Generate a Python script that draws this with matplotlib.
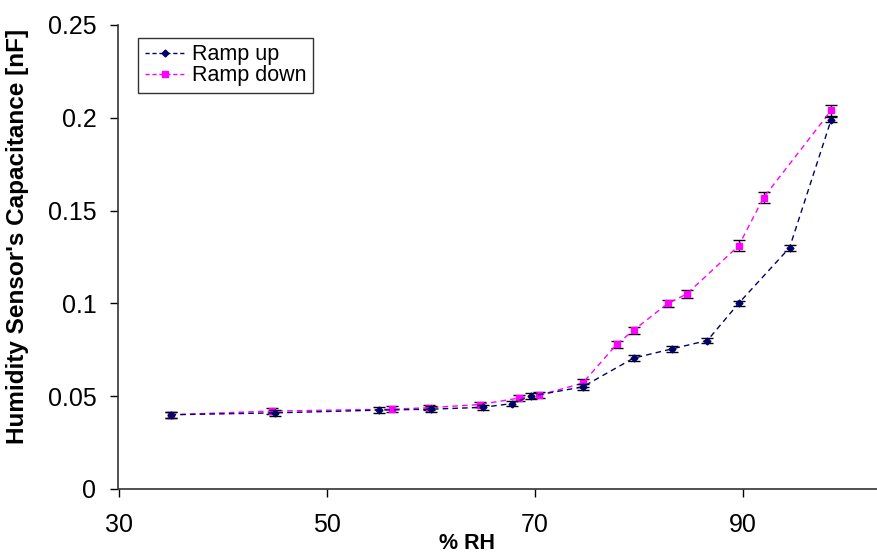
import matplotlib
matplotlib.use("Agg")
import matplotlib.pyplot as plt
from matplotlib.lines import Line2D

# Data
up_x = [35, 45, 55, 60, 65, 67.8, 69.6, 74.6, 79.5, 83.2, 86.6, 89.6, 94.5, 98.5]
up_y = [0.040, 0.041, 0.0425, 0.043, 0.044, 0.046, 0.050, 0.055, 0.0705, 0.0755, 0.080, 0.100, 0.130, 0.199]
up_err = [0.0015] * len(up_x)

down_x = [35, 44.8, 56.3, 59.8, 64.7, 68.5, 70.4, 74.6, 77.9, 79.5, 82.8, 84.6, 89.6, 92.0, 98.5]
down_y = [0.040, 0.042, 0.043, 0.0438, 0.0455, 0.049, 0.0505, 0.057, 0.078, 0.0855, 0.100, 0.105, 0.131, 0.157, 0.204]
down_err = [0.0015, 0.0015, 0.0015, 0.0015, 0.0015, 0.0015, 0.0015, 0.002, 0.002, 0.002, 0.002, 0.002, 0.003, 0.003, 0.003]

x_ticks = [30, 50, 70, 90]
y_ticks = [0, 0.05, 0.1, 0.15, 0.2, 0.25]
y_ticklabels = ["0", "0.05", "0.1", "0.15", "0.2", "0.25"]

plt.rcParams['font.family'] = ['Liberation Sans', 'DejaVu Sans']

fig = plt.figure(figsize=(8.78, 5.55), dpi=100)
ax = fig.add_axes([118.5 / 878, 1 - 489 / 555, 1 - 118.5 / 878, (489 - 25) / 555])

navy = '#000066'
mag = '#ff00ff'

ax.errorbar(up_x, up_y, yerr=up_err, color=navy, ls='--', lw=1.0, marker='D', ms=3.5,
            ecolor='black', elinewidth=1, capsize=4, dashes=(4, 3), zorder=3)
ax.errorbar(down_x, down_y, yerr=down_err, color=mag, ls='--', lw=1.0, marker='s', ms=5,
            ecolor='black', elinewidth=1, capsize=4, dashes=(4, 3), zorder=2)

ax.set_xlim(30, 103)
ax.set_ylim(0, 0.25)
ax.set_xticks(x_ticks)
ax.set_yticks(y_ticks)
ax.set_yticklabels(y_ticklabels)
ax.tick_params(axis='both', labelsize=18, direction='out', length=6, width=1, colors='black')
ax.tick_params(axis='x', pad=11)
ax.tick_params(axis='y', pad=10)
for s in ['top', 'right']:
    ax.spines[s].set_visible(False)
for s in ['left', 'bottom']:
    ax.spines[s].set_linewidth(1.2)
    ax.spines[s].set_color('#333333')

ax.set_xlabel('% RH', fontsize=15.5, fontweight='bold')
ax.xaxis.set_label_coords(0.459, -0.094)
ax.set_ylabel("Humidity Sensor's Capacitance [nF]", fontsize=17.5, fontweight='bold')
ax.yaxis.set_label_coords(-0.118, 0.544)

handles = [
    Line2D([], [], color=navy, ls='--', lw=1.0, dashes=(3, 2), marker='D', ms=3.5),
    Line2D([], [], color=mag, ls='--', lw=1.0, dashes=(3, 2), marker='s', ms=5),
]
leg = ax.legend(handles, ['Ramp up', 'Ramp down'], loc='upper left',
                bbox_to_anchor=(20 / 759.5, 1 - 13 / 464), fontsize=15.5, frameon=True,
                fancybox=False, edgecolor='black', labelspacing=0.0, handlelength=1.9,
                handletextpad=0.3, borderpad=0.3, borderaxespad=0)
leg.get_frame().set_linewidth(1.0)

fig.savefig('out.png', dpi=100)
